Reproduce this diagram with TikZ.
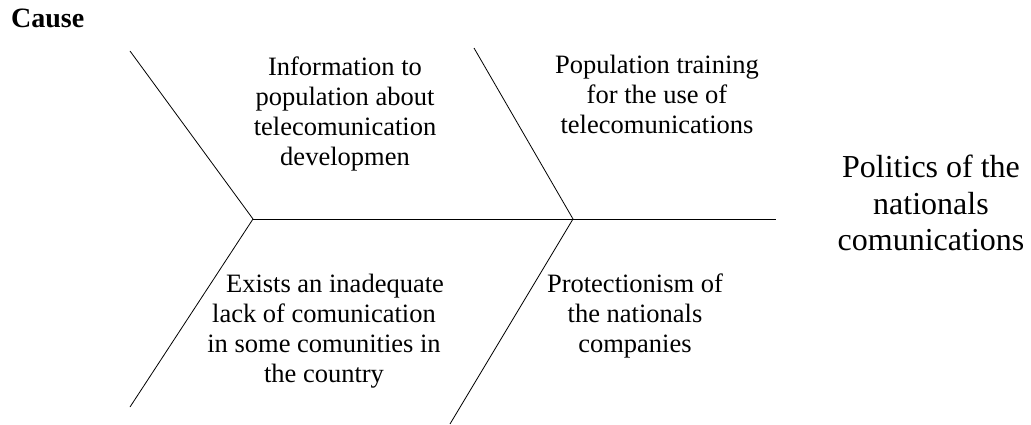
\documentclass[tikz,border=0pt]{standalone}
\usepackage{fontspec}
\setmainfont{Liberation Serif}
\begin{document}
\begin{tikzpicture}[x=1pt,y=-1pt,
  bone/.style={draw=black,line width=0.8pt},
  cause/.style={inner sep=0pt,anchor=north,align=center,
    font=\fontsize{26.5}{30}\selectfont},
  effect/.style={inner sep=0pt,anchor=north,align=center,
    font=\fontsize{32}{36.5}\selectfont},
  heading/.style={inner sep=0pt,anchor=north west,
    font=\fontsize{28}{32}\selectfont\bfseries}]
  \useasboundingbox (0,0) rectangle (1031,425);

  % spine joints and bone ends
  \coordinate (j1) at (253,219);
  \coordinate (j2) at (573,219);
  \coordinate (tail) at (776,219);
  \coordinate (ul) at (130,51);
  \coordinate (ll) at (130,407);
  \coordinate (ur) at (474,48);
  \coordinate (lr) at (450,424);

  \draw[bone] (j1) -- (tail);
  \draw[bone] (ul) -- (j1) -- (ll);
  \draw[bone] (ur) -- (j2) -- (lr);

  % heading
  \node[heading] (hd) at (11,9) {Cause};

  % causes
  \node[cause] (c1) at (345,57) {Information to\\population about\\telecomunication\\developmen};
  \node[cause] (c2) at (657,55) {Population training\\for the use of\\telecomunications};
  \node[cause] (c3) at (324,274) {\hspace*{22pt}Exists an inadequate\\lack of comunication\\in some comunities in\\the country};
  \node[cause] (c4) at (635,274) {Protectionism of\\the nationals\\companies};

  % effect
  \node[effect] (ef) at (931,155) {Politics of the\\nationals\\comunications};
\end{tikzpicture}
\end{document}
